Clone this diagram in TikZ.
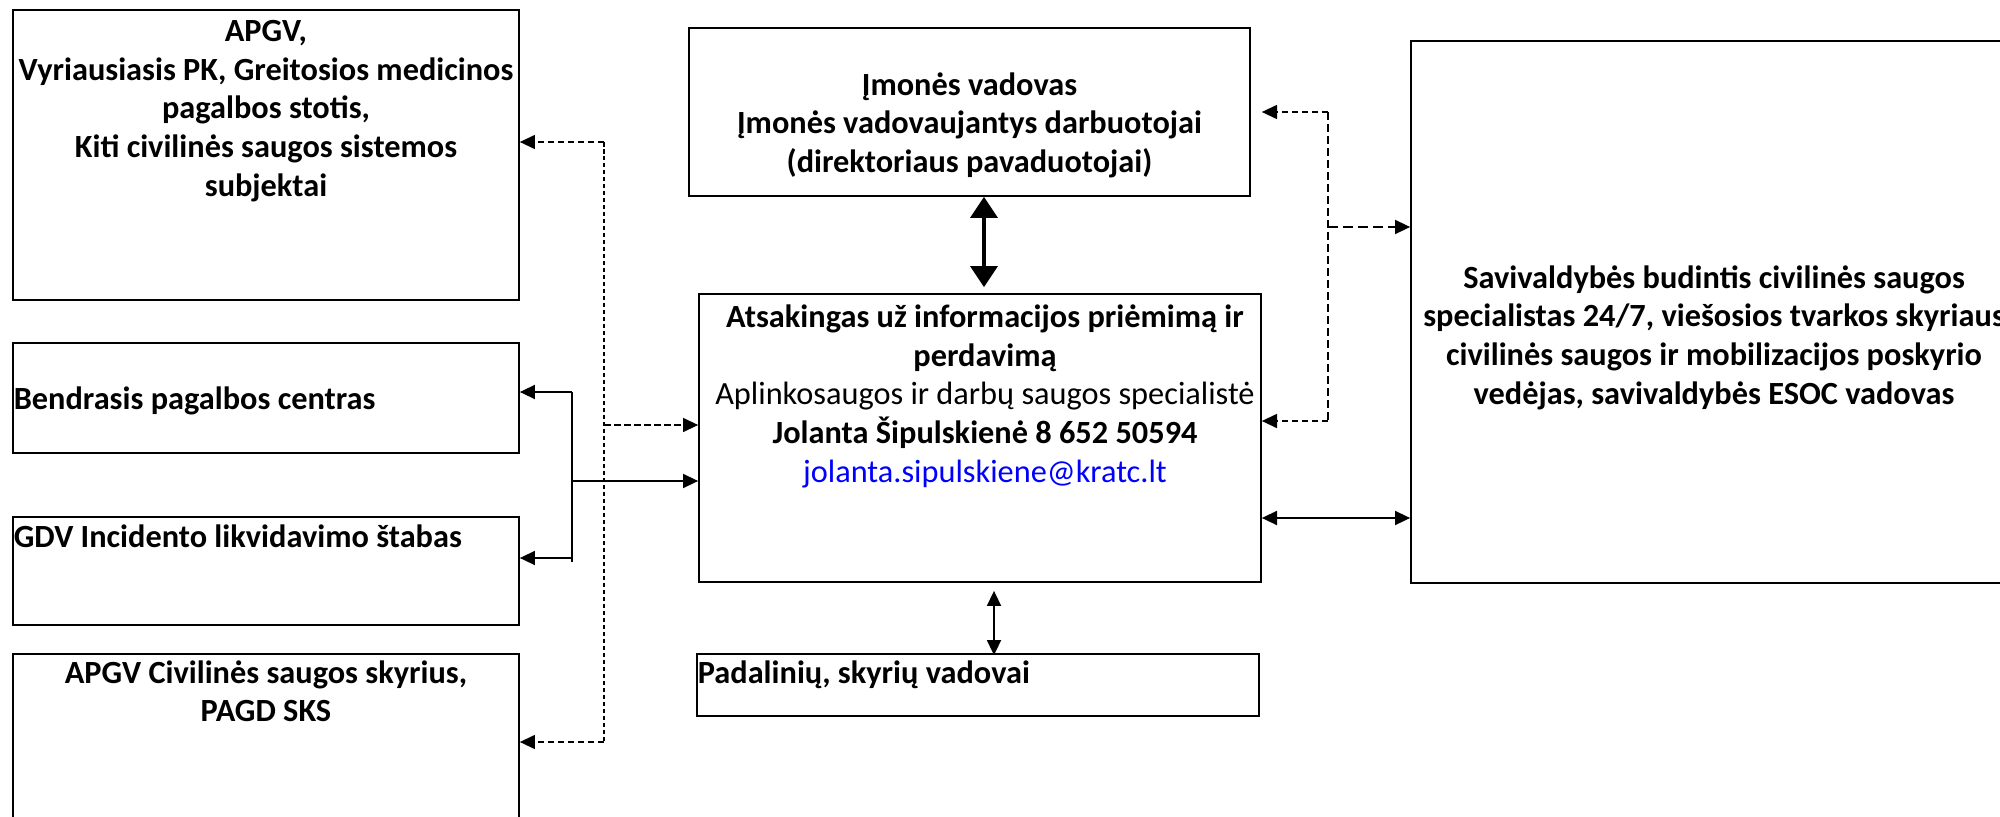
\documentclass[tikz,border=0pt]{standalone}
\usepackage{fontspec}
\setmainfont{Carlito}
\usetikzlibrary{calc,positioning,arrows.meta}

\tikzset{
  boxtext/.style={font=\bfseries, align=center, inner sep=0pt},
  arr/.style={-{Triangle[length=4.3pt,width=4pt]}, line width=0.48pt},
  dblarr/.style={{Triangle[length=4.3pt,width=4pt]}-{Triangle[length=4.3pt,width=4pt]}, line width=0.48pt},
  bigarr/.style={{Triangle[length=0.21cm,width=0.27cm]}-{Triangle[length=0.21cm,width=0.27cm]}, line width=0.95pt},
  dasharr/.style={-{Triangle[length=4.3pt,width=4pt]}, line width=0.4pt, dash pattern=on 0.065cm off 0.035cm},
  busline/.style={line width=0.35pt, dash pattern=on 0.045cm off 0.025cm}
}
\newcommand{\orgbox}[4]{
    \draw (#1) node[rectangle, draw, line width=0.5pt, inner sep=0pt, minimum width=#2, minimum height=#3] (#4) {};
}

\begin{document}
\fontsize{9.2pt}{11pt}\selectfont
\begin{tikzpicture}
    \useasboundingbox (0,0) rectangle (20,-8.17);

    % Left column
    \orgbox{2.66,-1.55}{5.06cm}{2.90cm}{apgv}
    \draw node[boxtext, below=0.105 of apgv.north] {APGV,\\ Vyriausiasis PK, Greitosios medicinos\\ pagalbos stotis,\\ Kiti civilinės saugos sistemos\\ subjektai};
    \orgbox{2.66,-3.98}{5.06cm}{1.10cm}{bpc}
    \draw node[boxtext, below right=0.44 and 0.01 of bpc.north west] {Bendrasis pagalbos centras};
    \orgbox{2.66,-5.71}{5.06cm}{1.08cm}{gdv}
    \draw node[boxtext, below right=0.075 and 0.01 of gdv.north west] {GDV Incidento likvidavimo štabas};
    \orgbox{2.66,-7.54}{5.06cm}{2.00cm}{civil}
    \draw node[boxtext, below=0.065 of civil.north] {APGV Civilinės saugos skyrius,\\ PAGD SKS};

    % Middle column
    \orgbox{9.695,-1.12}{5.61cm}{1.68cm}{mgmt}
    \draw node[boxtext, below=0.445 of mgmt.north] {Įmonės vadovas\\ Įmonės vadovaujantys darbuotojai\\ (direktoriaus pavaduotojai)};
    \orgbox{9.80,-4.38}{5.62cm}{2.88cm}{resp}
    \draw node[boxtext, below=0.11 of resp.north, xshift=0.05cm] {Atsakingas už informacijos priėmimą ir\\ perdavimą\\ {\mdseries Aplinkosaugos ir darbų saugos specialistė}\\ Jolanta Šipulskienė 8 652 50594\\ {\mdseries\textcolor{blue}{jolanta.sipulskiene@kratc.lt}}};
    \orgbox{9.78,-6.85}{5.62cm}{0.62cm}{heads}
    \draw node[boxtext, below right=0.065 and 0.01 of heads.north west] {Padalinių, skyrių vadovai};

    % Right column
    \orgbox{17.14,-3.12}{6.06cm}{5.42cm}{savi}
    \draw node[boxtext, below=2.245 of savi.north] {Savivaldybės budintis civilinės saugos\\ specialistas 24/7, viešosios tvarkos skyriaus\\ civilinės saugos ir mobilizacijos poskyrio\\ vedėjas, savivaldybės ESOC vadovas};

    % Vertical links in the middle
    \coordinate (ef) at (9.84,0);
    \draw[bigarr] (ef |- mgmt.south) -- ($(ef |- resp.north)+(0,0.06)$);
    \coordinate (fg) at (9.94,0);
    \draw[dblarr] ($(fg |- resp.south)+(0,-0.08)$) -- ($(fg |- heads.north)+(0,-0.02)$);

    % Left dashed bus
    \coordinate (lbusTop) at (6.04,-1.42);
    \coordinate (lbusBot) at (6.04,-7.42);
    \coordinate (lbusMid) at (6.04,-4.25);
    \draw[busline] (lbusTop) -- (lbusBot);
    \draw[dasharr] (lbusTop) -- (lbusTop -| apgv.east);
    \draw[dasharr] (lbusBot) -- (lbusBot -| civil.east);
    \draw[dasharr] (lbusMid) -- (lbusMid -| resp.west);

    % Solid bracket
    \coordinate (brTop) at (5.72,-3.92);
    \coordinate (brBot) at (5.72,-5.58);
    \coordinate (brMid) at (5.72,-4.81);
    \draw[line width=0.48pt] (brTop) -- ($(brBot)+(0,-0.04)$);
    \draw[arr] (brTop) -- (brTop -| bpc.east);
    \draw[arr] (brBot) -- (brBot -| gdv.east);
    \draw[arr] (brMid) -- (brMid -| resp.west);

    % Right dashed bus
    \coordinate (rbusTop) at (13.28,-1.12);
    \coordinate (rbusBot) at (13.28,-4.21);
    \coordinate (rbusMid) at (13.28,-2.27);
    \draw[busline, line width=0.4pt, dash pattern=on 0.08cm off 0.04cm] (rbusTop) -- (rbusBot);
    \draw[dasharr] (rbusTop) -- (rbusTop -| resp.east);
    \draw[dasharr] (rbusBot) -- (rbusBot -| resp.east);
    \draw[dasharr, line width=0.5pt, dash pattern=on 0.1cm off 0.05cm] (rbusMid) -- (rbusMid -| savi.west);

    % Link to municipality
    \coordinate (fh) at (12.6,-5.18);
    \draw[dblarr] (fh -| resp.east) -- (fh -| savi.west);
\end{tikzpicture}
\end{document}
